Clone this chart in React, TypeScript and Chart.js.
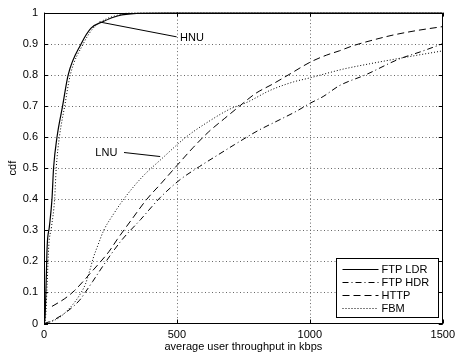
import React, { useEffect, useRef } from 'react';
import { Chart, registerables } from 'chart.js';

Chart.register(...registerables);

// ---- data (kbps, cdf) ----
const ftpLdrX = [0, 4, 8, 12, 20, 30, 36, 49, 70, 91, 140, 177, 219, 280, 360, 460, 1500];
const ftpLdrY = [0, 0.02, 0.13, 0.25, 0.31, 0.4, 0.5, 0.6, 0.7, 0.8, 0.9, 0.95, 0.97, 0.99, 0.998, 1, 1];

const fbmHnuX = [0, 6, 12, 18, 28, 40, 46, 58, 78, 99, 148, 185, 214, 235, 270, 330, 1500];
const fbmHnuY = [0, 0.02, 0.13, 0.25, 0.31, 0.4, 0.5, 0.6, 0.7, 0.8, 0.9, 0.95, 0.97, 0.98, 0.99, 1, 1];

const ftpHdrX = [0, 33, 89, 134, 155, 183, 214, 250, 294, 363, 437, 511, 585, 650, 716, 802, 888, 950, 1000, 1050, 1111, 1210, 1334, 1420, 1500];
const ftpHdrY = [0, 0.01, 0.04, 0.075, 0.1, 0.135, 0.175, 0.22, 0.27, 0.334, 0.405, 0.462, 0.505, 0.54, 0.575, 0.619, 0.656, 0.683, 0.708, 0.73, 0.765, 0.8, 0.85, 0.875, 0.9];

const httpX = [30, 78, 115, 152, 183, 214, 245, 275, 326, 387, 440, 499, 560, 620, 680, 734, 796, 860, 930, 1000, 1062, 1111, 1161, 1230, 1309, 1400, 1500];
const httpY = [0.055, 0.08, 0.106, 0.14, 0.17, 0.2, 0.232, 0.27, 0.33, 0.4, 0.45, 0.507, 0.565, 0.617, 0.66, 0.698, 0.74, 0.77, 0.805, 0.84, 0.863, 0.877, 0.893, 0.91, 0.927, 0.942, 0.955];

const fbmLnuX = [10, 59, 97, 121, 140, 155, 172, 185, 202, 225, 260, 300, 368, 443, 535, 620, 700, 765, 851, 938, 1000, 1074, 1124, 1223, 1371, 1500];
const fbmLnuY = [0, 0.02, 0.05, 0.075, 0.1, 0.125, 0.17, 0.21, 0.25, 0.3, 0.35, 0.4, 0.47, 0.53, 0.6, 0.65, 0.69, 0.712, 0.75, 0.777, 0.79, 0.807, 0.818, 0.835, 0.858, 0.877];

const legendLabels = ['FTP LDR', 'FTP HDR', 'HTTP', 'FBM'];
const xTickValues = [0, 500, 1000, 1500];
const yTickValues = [0, 0.1, 0.2, 0.3, 0.4, 0.5, 0.6, 0.7, 0.8, 0.9, 1];

// annotations: label, text anchor (x,y), align, pointer line from (x1,y1) to (x2,y2)
const annLabels = ['HNU', 'LNU'];
const annTextX = [512, 276];
const annTextY = [0.92, 0.55];
const annAlign = ['left', 'right'];
const annLineX1 = [499, 301];
const annLineY1 = [0.922, 0.55];
const annLineX2 = [208, 437];
const annLineY2 = [0.97, 0.537];

const FONT = '"Liberation Sans", Arial, Helvetica, sans-serif';

const DASH_SOLID: number[] = [];
const DASH_DASHDOT = [6, 3, 1, 3];
const DASH_DASHED = [7, 4];
const DASH_DOTTED = [1, 2];
const legendDashes = [DASH_SOLID, DASH_DASHDOT, DASH_DASHED, DASH_DOTTED];

function pts(xs: number[], ys: number[]) {
  return xs.map((x, i) => ({ x, y: ys[i] }));
}

const gridPlugin = {
  id: 'dotgrid',
  beforeDatasetsDraw(chart: any) {
    const { ctx, chartArea } = chart;
    const { left, right, top, bottom } = chartArea;
    const xs = chart.scales.x;
    const ys = chart.scales.y;
    ctx.save();
    ctx.strokeStyle = '#666';
    ctx.lineWidth = 1;
    ctx.setLineDash([1, 2.5]);
    ctx.beginPath();
    yTickValues.slice(1, -1).forEach((v) => {
      const py = Math.round(ys.getPixelForValue(v)) + 0.5;
      ctx.moveTo(left, py); ctx.lineTo(right, py);
    });
    xTickValues.slice(1, -1).forEach((v) => {
      const px = Math.round(xs.getPixelForValue(v)) + 0.5;
      ctx.moveTo(px, top); ctx.lineTo(px, bottom);
    });
    ctx.stroke();
    ctx.restore();
  },
};

const overlayPlugin = {
  id: 'overlay',
  afterDatasetsDraw(chart: any) {
    const { ctx, chartArea } = chart;
    const { left, right, top, bottom } = chartArea;
    const xs = chart.scales.x;
    const ys = chart.scales.y;
    ctx.save();
    ctx.setLineDash([]);
    ctx.strokeStyle = '#000';
    ctx.lineWidth = 1;
    // frame
    ctx.strokeRect(Math.round(left) + 0.5, Math.round(top) + 0.5, Math.round(right - left) - 1, Math.round(bottom - top) - 1);
    // inward ticks
    const tl = 4;
    ctx.beginPath();
    yTickValues.forEach((v) => {
      const py = Math.round(ys.getPixelForValue(v)) + 0.5;
      ctx.moveTo(left, py); ctx.lineTo(left + tl, py);
      ctx.moveTo(right, py); ctx.lineTo(right - tl, py);
    });
    xTickValues.forEach((v) => {
      const px = Math.round(xs.getPixelForValue(v)) + 0.5;
      ctx.moveTo(px, bottom); ctx.lineTo(px, bottom - tl);
      ctx.moveTo(px, top); ctx.lineTo(px, top + tl);
    });
    ctx.stroke();

    // annotations
    ctx.font = '11px ' + FONT;
    ctx.fillStyle = '#000';
    ctx.textBaseline = 'middle';
    annLabels.forEach((lab, i) => {
      ctx.beginPath();
      ctx.moveTo(xs.getPixelForValue(annLineX1[i]), ys.getPixelForValue(annLineY1[i]));
      ctx.lineTo(xs.getPixelForValue(annLineX2[i]), ys.getPixelForValue(annLineY2[i]));
      ctx.stroke();
      ctx.textAlign = annAlign[i] as CanvasTextAlign;
      ctx.fillText(lab, xs.getPixelForValue(annTextX[i]), ys.getPixelForValue(annTextY[i]));
    });

    // legend
    const bw = 102, bh = 59;
    const bx = Math.round(right - 5 - bw) + 0.5;
    const by = Math.round(bottom - 7 - bh) + 0.5;
    ctx.fillStyle = '#fff';
    ctx.fillRect(bx, by, bw, bh);
    ctx.strokeStyle = '#000';
    ctx.lineWidth = 1;
    ctx.strokeRect(bx, by, bw, bh);
    ctx.textAlign = 'left';
    ctx.fillStyle = '#000';
    legendLabels.forEach((lab, i) => {
      const ry = Math.round(by + 10 + i * 13.3) + 0.5;
      ctx.setLineDash(legendDashes[i]);
      ctx.beginPath();
      ctx.moveTo(bx + 6, ry);
      ctx.lineTo(bx + 42, ry);
      ctx.stroke();
      ctx.setLineDash([]);
      ctx.fillText(lab, bx + 45, ry);
    });
    ctx.restore();
  },
};

export default function App() {
  const ref = useRef<HTMLCanvasElement | null>(null);
  useEffect(() => {
    document.body.style.margin = '0';
    const canvas = ref.current!;
    const common = { borderColor: '#000', borderWidth: 1, pointRadius: 0, fill: false, cubicInterpolationMode: 'monotone' as const };
    const chart = new Chart(canvas, {
      type: 'line',
      data: {
        datasets: [
          { label: 'FTP LDR', data: pts(ftpLdrX, ftpLdrY), borderDash: DASH_SOLID, ...common, borderWidth: 1.2 },
          { label: 'FBM (HNU)', data: pts(fbmHnuX, fbmHnuY), borderDash: DASH_DOTTED, ...common },
          { label: 'FTP HDR', data: pts(ftpHdrX, ftpHdrY), borderDash: DASH_DASHDOT, ...common },
          { label: 'HTTP', data: pts(httpX, httpY), borderDash: DASH_DASHED, ...common },
          { label: 'FBM', data: pts(fbmLnuX, fbmLnuY), borderDash: DASH_DOTTED, ...common },
        ],
      },
      options: {
        responsive: false,
        animation: false,
        layout: { padding: { top: 8, right: 12, left: 0, bottom: 0 } },
        plugins: { legend: { display: false }, tooltip: { enabled: false } },
        scales: {
          x: {
            type: 'linear',
            min: 0,
            max: 1500,
            afterBuildTicks: (s: any) => { s.ticks = xTickValues.map((v) => ({ value: v })); },
            afterFit: (s: any) => { s.height = 32.5; },
            grid: { display: false, drawTicks: false },
            border: { display: false },
            ticks: { color: '#000', font: { family: FONT, size: 11 }, padding: 5, maxRotation: 0, autoSkip: false, callback: (v: any) => String(v) },
            title: { display: true, text: 'average user throughput in kbps', color: '#000', font: { family: FONT, size: 11 }, padding: { top: 0, bottom: 2 } },
          },
          y: {
            type: 'linear',
            min: 0,
            max: 1,
            afterBuildTicks: (s: any) => { s.ticks = yTickValues.map((v) => ({ value: v })); },
            afterFit: (s: any) => { s.width = 44; },
            grid: { display: false, drawTicks: false },
            border: { display: false },
            ticks: { color: '#000', font: { family: FONT, size: 11 }, padding: 6, callback: (v: any) => String(Math.round(Number(v) * 10) / 10) },
            title: { display: true, text: 'cdf', color: '#000', font: { family: FONT, size: 11 }, padding: { top: 6, bottom: 0 } },
          },
        },
      },
      plugins: [gridPlugin, overlayPlugin],
    });
    return () => chart.destroy();
  }, []);
  return <canvas ref={ref} width={460} height={356} style={{ display: 'block' }} />;
}
